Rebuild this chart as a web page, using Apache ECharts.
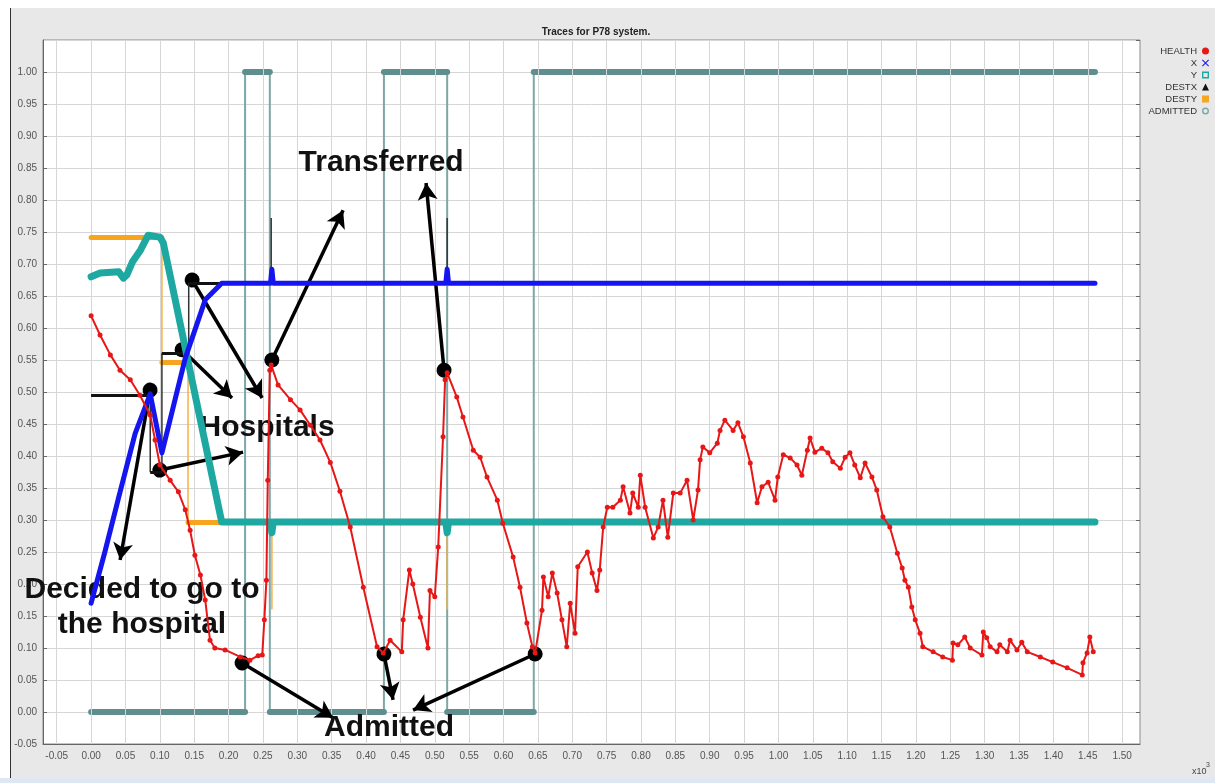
<!DOCTYPE html>
<html>
<head>
<meta charset="utf-8">
<script src="https://cdn.jsdelivr.net/npm/echarts@6/dist/echarts.min.js"></script>
<style>
html,body{margin:0;padding:0;background:#fff;}
#chart{width:1215px;height:783px;}
</style>
</head>
<body>
<div id="chart"></div>
<script>
// ---------- DATA ----------
const xTickValues = [-0.05,0.00,0.05,0.10,0.15,0.20,0.25,0.30,0.35,0.40,0.45,0.50,0.55,0.60,0.65,0.70,0.75,0.80,0.85,0.90,0.95,1.00,1.05,1.10,1.15,1.20,1.25,1.30,1.35,1.40,1.45,1.50];

const healthX = [0.000,0.013,0.028,0.042,0.057,0.071,0.086,0.093,0.100,0.115,0.127,0.137,0.144,0.151,0.159,0.166,0.173,0.180,0.195,0.217,0.231,0.243,0.249,0.252,0.255,0.257,0.260,0.262,0.272,0.290,0.304,0.319,0.333,0.348,0.362,0.377,0.396,0.416,0.425,0.435,0.452,0.454,0.463,0.468,0.479,0.490,0.493,0.500,0.505,0.512,0.515,0.518,0.532,0.541,0.556,0.566,0.576,0.591,0.599,0.614,0.624,0.634,0.642,0.646,0.656,0.658,0.665,0.671,0.678,0.685,0.692,0.697,0.704,0.708,0.722,0.729,0.736,0.740,0.745,0.751,0.759,0.770,0.774,0.784,0.788,0.796,0.799,0.806,0.818,0.825,0.832,0.839,0.847,0.857,0.867,0.876,0.883,0.886,0.890,0.900,0.911,0.915,0.922,0.934,0.941,0.949,0.959,0.969,0.976,0.985,0.995,0.999,1.007,1.017,1.027,1.034,1.042,1.046,1.053,1.063,1.072,1.079,1.090,1.097,1.104,1.111,1.119,1.126,1.136,1.143,1.152,1.162,1.173,1.180,1.184,1.189,1.194,1.199,1.206,1.210,1.225,1.239,1.253,1.254,1.261,1.271,1.279,1.296,1.298,1.303,1.308,1.318,1.322,1.333,1.337,1.347,1.354,1.362,1.381,1.399,1.420,1.442,1.443,1.449,1.453,1.458];
const healthY = [0.619,0.589,0.558,0.534,0.519,0.495,0.464,0.425,0.386,0.362,0.344,0.316,0.284,0.245,0.214,0.175,0.112,0.100,0.097,0.086,0.081,0.088,0.089,0.144,0.206,0.362,0.534,0.542,0.511,0.488,0.472,0.448,0.425,0.390,0.345,0.289,0.195,0.102,0.092,0.112,0.094,0.144,0.222,0.200,0.148,0.100,0.190,0.180,0.258,0.430,0.519,0.530,0.492,0.461,0.409,0.398,0.367,0.331,0.295,0.242,0.195,0.139,0.102,0.092,0.159,0.211,0.180,0.217,0.186,0.144,0.102,0.170,0.123,0.227,0.250,0.217,0.190,0.222,0.289,0.320,0.320,0.331,0.352,0.311,0.342,0.320,0.370,0.320,0.272,0.289,0.331,0.273,0.342,0.342,0.362,0.300,0.347,0.394,0.414,0.405,0.420,0.440,0.456,0.440,0.452,0.430,0.389,0.327,0.352,0.359,0.331,0.367,0.402,0.397,0.386,0.370,0.409,0.428,0.406,0.412,0.405,0.391,0.381,0.398,0.405,0.386,0.366,0.389,0.367,0.347,0.305,0.289,0.248,0.225,0.206,0.195,0.164,0.144,0.123,0.102,0.094,0.086,0.081,0.108,0.105,0.117,0.100,0.089,0.125,0.116,0.102,0.094,0.105,0.094,0.112,0.097,0.109,0.094,0.086,0.078,0.069,0.058,0.077,0.092,0.117,0.094];

const posX_T = [0,0.02,0.04,0.064,0.086,0.103,0.137,0.166,0.19,0.261,0.263,0.265,0.516,0.518,0.520,1.4605];
const posX_V = [0.17,0.25,0.335,0.435,0.497,0.405,0.553,0.644,0.67,0.67,0.692,0.67,0.67,0.692,0.67,0.67];

const posY_T = [0,0.013,0.04,0.047,0.052,0.06,0.072,0.083,0.1,0.105,0.19,0.261,0.263,0.265,0.516,0.518,0.520,1.4605];
const posY_V = [0.68,0.686,0.688,0.678,0.683,0.703,0.722,0.745,0.742,0.733,0.297,0.297,0.28,0.297,0.297,0.28,0.297,0.297];

const destxT = [0,0.086,0.086,0.103,0.103,0.142,0.142,0.262,0.262,0.262,0.518,0.518,0.518,1.4605];
const destxV = [0.495,0.495,0.375,0.375,0.56,0.56,0.67,0.67,0.772,0.67,0.67,0.772,0.67,0.67];

const destyT = [0,0.103,0.103,0.141,0.141,0.263,0.263,0.263,0.518,0.518,0.518,1.4605];
const destyV = [0.742,0.742,0.547,0.547,0.297,0.297,0.16,0.297,0.297,0.16,0.297,0.297];

const admT = [0,0.224,0.224,0.26,0.26,0.426,0.426,0.518,0.518,0.644,0.644,1.4605];
const admV = [0,0,1,1,0,0,1,1,0,0,1,1];

// annotations (data coordinates)
const annoDots  = [[0.0858,0.503],[0.1324,0.566],[0.147,0.675],[0.100,0.378],[0.263,0.55],[0.5135,0.534],[0.2197,0.0766],[0.426,0.0906],[0.646,0.0906]];
const annoHeads = [[0.0422,0.2375],[0.205,0.4906],[0.2488,0.4906],[0.2211,0.406],[0.3666,0.784],[0.4873,0.8266],[0.352,-0.009],[0.4393,0.019],[0.4684,0.003]];
const annoTexts = ['Transferred','Hospitals','Decided to go to\nthe hospital','Admitted'];
const annoTextPos = [[0.4219,0.858],[0.256,0.444],[0.074,0.164],[0.4335,-0.025]];

// ---------- helpers ----------
function pairs(xs, ys){ return xs.map((x,i)=>[x, ys[i]]); }
function horizSegs(xs, ys){
  const out = [];
  for (let i=0;i<xs.length-1;i++){
    if (ys[i]===ys[i+1] && xs[i+1]>xs[i]) out.push({coords:[[xs[i],ys[i]],[xs[i+1],ys[i+1]]]});
  }
  return out;
}

const FONT = '"Liberation Sans", Arial, sans-serif';
const chart = echarts.init(document.getElementById('chart'), null, {renderer:'canvas'});

const option = {
  animation:false,
  backgroundColor:'#e8e8e8',
  textStyle:{fontFamily:FONT},
  title:{
    text:'Traces for P78 system.',
    left:591, top:22, textAlign:'center',
    textStyle:{fontSize:10, fontWeight:'bold', color:'#222', fontFamily:FONT}
  },
  legend:{
    orient:'vertical', right:1, top:41, align:'right', itemGap:2,
    itemWidth:7, itemHeight:7, selectedMode:false,
    textStyle:{fontSize:9.5, color:'#333', padding:[0,0,0,0]},
    data:[
      {name:'HEALTH', icon:'circle'},
      {name:'X', icon:'path://M0,1L1,0L5,4L9,0L10,1L6,5L10,9L9,10L5,6L1,10L0,9L4,5Z'},
      {name:'Y', icon:'path://M0,0L10,0L10,10L0,10ZM2,2L2,8L8,8L8,2Z'},
      {name:'DESTX', icon:'triangle'},
      {name:'DESTY', icon:'rect'},
      {name:'ADMITTED', icon:'path://M5,0A5,5,0,1,1,4.99,0ZM5,2A3,3,0,1,0,5.01,2Z'}
    ]
  },
  grid:{left:43, right:75, top:40, bottom:39, show:true, backgroundColor:'#fff', borderColor:'#8a8a8a', borderWidth:1},
  xAxis:[{
    type:'value', min:-0.07, max:1.526, position:'bottom',
    axisLine:{show:true, onZero:false, lineStyle:{color:'#666'}},
    axisTick:{show:true, inside:true, length:4, customValues:xTickValues, lineStyle:{color:'#666'}},
    axisLabel:{customValues:xTickValues, color:'#555', fontSize:10, margin:7, formatter:v=>v.toFixed(2)},
    splitLine:{show:false}
  },{
    type:'value', min:-0.07, max:1.526, position:'top',
    axisLine:{show:false, onZero:false},
    axisTick:{show:true, inside:true, length:4, customValues:xTickValues, lineStyle:{color:'#666'}},
    axisLabel:{show:false}, splitLine:{show:false}
  }],
  yAxis:[{
    type:'value', min:-0.05, max:1.05, interval:0.05, position:'left',
    axisLine:{show:true, onZero:false, lineStyle:{color:'#666'}},
    axisTick:{show:true, inside:true, length:4, lineStyle:{color:'#666'}},
    axisLabel:{color:'#555', fontSize:10, margin:6, showMaxLabel:false, formatter:v=>v.toFixed(2)},
    splitLine:{show:true, lineStyle:{color:'#d6d6d6', width:1}}
  },{
    type:'value', min:-0.05, max:1.05, interval:0.05, position:'right',
    axisLine:{show:false, onZero:false},
    axisTick:{show:true, inside:true, length:4, lineStyle:{color:'#666'}},
    axisLabel:{show:false}, splitLine:{show:false}
  }],
  graphic:[
    {type:'rect', left:0, top:0, shape:{width:10, height:783}, style:{fill:'#fff'}},
    {type:'rect', left:0, top:0, shape:{width:1215, height:8}, style:{fill:'#fff'}},
    {type:'rect', left:0, top:778, shape:{width:1215, height:5}, style:{fill:'#dde8f3'}},
    {type:'line', shape:{x1:10.5, y1:8, x2:10.5, y2:778}, style:{stroke:'#333', lineWidth:1}},
    {type:'text', left:1192, top:767, style:{text:'x10', fontSize:9, fill:'#444', fontFamily:FONT}},
    {type:'text', left:1206, top:762, style:{text:'3', fontSize:7, fill:'#444', fontFamily:FONT}}
  ],
  series:[
    // vertical grid lines
    {type:'scatter', name:'_grid', data:[], z:1, silent:true,
      markLine:{silent:true, symbol:['none','none'], label:{show:false},
        lineStyle:{color:'#d6d6d6', width:1, type:'solid'},
        data:xTickValues.map(v=>({xAxis:v}))}},
    // ADMITTED
    {type:'line', name:'ADMITTED', data:pairs(admT, admV), showSymbol:false, z:2,
      color:'#7ea8a8', lineStyle:{color:'#7ea8a8', width:2}},
    {type:'lines', name:'ADMITTED', coordinateSystem:'cartesian2d', z:3, polyline:false,
      data:horizSegs(admT, admV), lineStyle:{color:'#5f8e8e', width:6, cap:'round', opacity:1}},
    // DESTY
    {type:'line', name:'DESTY', data:pairs(destyT, destyV), showSymbol:false, z:4,
      color:'#f5a623', lineStyle:{color:'#f5b042', width:1.5}},
    {type:'lines', name:'DESTY', coordinateSystem:'cartesian2d', z:5, polyline:false,
      data:horizSegs(destyT, destyV), lineStyle:{color:'#f7a51e', width:5, cap:'round', opacity:1}},
    // DESTX
    {type:'line', name:'DESTX', data:pairs(destxT, destxV), showSymbol:false, z:6,
      color:'#111', lineStyle:{color:'#333', width:1.5}},
    {type:'lines', name:'DESTX', coordinateSystem:'cartesian2d', z:7, polyline:false,
      data:horizSegs(destxT, destxV), lineStyle:{color:'#111', width:3, cap:'butt', opacity:1}},
    // Y
    {type:'line', name:'Y', data:pairs(posY_T, posY_V), showSymbol:false, z:8,
      color:'#1ea8a2', lineStyle:{color:'#1ea8a2', width:7, cap:'round', join:'round'}},
    // X
    {type:'line', name:'X', data:pairs(posX_T, posX_V), showSymbol:false, z:9,
      color:'#1515f0', lineStyle:{color:'#1515f0', width:5, cap:'round', join:'round'}},
    // HEALTH
    {type:'line', name:'HEALTH', data:pairs(healthX, healthY), z:10,
      color:'#e81717', symbol:'circle', symbolSize:5, showSymbol:true,
      itemStyle:{color:'#e81717'}, lineStyle:{color:'#e81717', width:2}},
    // annotations
    {type:'scatter', name:'_anno', data:[], z:11, silent:true,
      markLine:{silent:true, symbol:['circle','arrow'], symbolSize:[15,17], label:{show:false},
        lineStyle:{color:'#000', width:3.5, type:'solid'},
        itemStyle:{color:'#000'},
        data:annoDots.map((d,i)=>[{coord:d},{coord:annoHeads[i]}])},
      markPoint:{silent:true,
        data:annoTexts.map((t,i)=>({coord:annoTextPos[i], symbol:'rect', symbolSize:1,
          itemStyle:{color:'rgba(0,0,0,0)'},
          label:{show:true, position:'inside', formatter:t, fontSize:30, fontWeight:'bold',
            color:'#111', fontFamily:FONT, align:'center', lineHeight:35}}))}}
  ]
};
chart.setOption(option);
</script>
</body>
</html>
